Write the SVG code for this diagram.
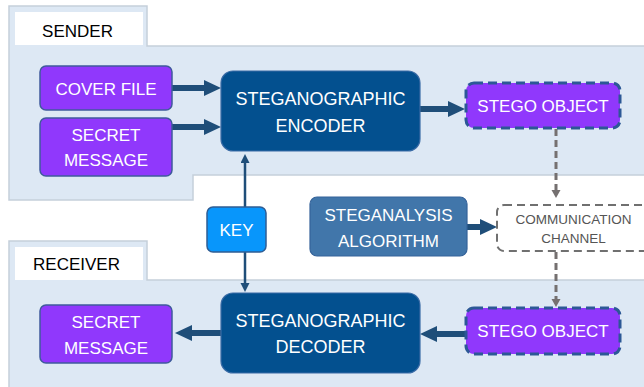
<svg xmlns="http://www.w3.org/2000/svg" width="644" height="387" viewBox="0 0 644 387">
<style>
.panel{fill:#dde8f4;stroke:#c5cfda;stroke-width:1.5}
.tab{fill:#ffffff}
.lbl{font-family:"Liberation Sans",Arial,sans-serif;font-size:17px;fill:#000;text-anchor:middle}
.t{font-family:"Liberation Sans",Arial,sans-serif;font-size:17px;fill:#ffffff;text-anchor:middle}
.purple{fill:#9038fc;stroke:#3f5a9c;stroke-width:1.5}
.enc{fill:#03508f;stroke:#3a6ba6;stroke-width:1.2}
.stego{fill:#9038fc;stroke:#2c5896;stroke-width:3;stroke-dasharray:9 5}
.key{fill:#0896fb;stroke:#2f5d94;stroke-width:1.5}
.ana{fill:#4176aa;stroke:#35639a;stroke-width:1.2}
.chan{fill:#ffffff;stroke:#707070;stroke-width:2;stroke-dasharray:8 5}
.ct{font-family:"Liberation Sans",Arial,sans-serif;font-size:13.5px;fill:#555555;text-anchor:middle}
.thick{stroke:#1f4e79;stroke-width:6;fill:none;marker-end:url(#big)}
.thin{stroke:#1f4e79;stroke-width:2.5;fill:none;marker-end:url(#small)}
.gray{stroke:#757070;stroke-width:3;fill:none;stroke-dasharray:7 4;marker-end:url(#grayh)}
</style>
<defs>
<marker id="big" markerUnits="userSpaceOnUse" markerWidth="18" markerHeight="16" refX="1" refY="8" orient="auto">
<path d="M0,0 L17,8 L0,16 z" fill="#1f4e79"/>
</marker>
<marker id="small" markerUnits="userSpaceOnUse" markerWidth="10" markerHeight="10" refX="1" refY="4.5" orient="auto">
<path d="M0,0 L9,4.5 L0,9 z" fill="#1f4e79"/>
</marker>
<marker id="grayh" markerUnits="userSpaceOnUse" markerWidth="10" markerHeight="10" refX="1" refY="4.5" orient="auto">
<path d="M0,0 L8,4.5 L0,9 z" fill="#757070"/>
</marker>
</defs>

<g id="sender-panel">
<path class="panel" d="M9,6 H147 V46 H646 V175 H193 V200 H9 Z"/>
<rect class="tab" x="15" y="12" width="128" height="33"/>
<text class="lbl" x="77.5" y="37">SENDER</text>
</g>

<g id="receiver-panel">
<path class="panel" d="M9,241 H147 V280 H646 V390 H9 Z"/>
<rect class="tab" x="15" y="247" width="128" height="33"/>
<text class="lbl" x="76.5" y="270">RECEIVER</text>
</g>

<g id="connectors">
<line class="thick" x1="172" y1="88" x2="205" y2="88"/>
<line class="thick" x1="172" y1="127" x2="205" y2="127"/>
<line class="thick" x1="420" y1="109" x2="449" y2="109"/>
<line class="thick" x1="221" y1="333" x2="191" y2="333"/>
<line class="thick" x1="466" y1="334" x2="436" y2="334"/>
<line class="thick" x1="467" y1="227" x2="481" y2="227"/>
<line class="thin" x1="245" y1="207" x2="245" y2="162"/>
<line class="thin" x1="245" y1="252" x2="245" y2="284"/>
<line class="gray" x1="556" y1="129" x2="556" y2="191"/>
<line class="gray" x1="556" y1="252" x2="556" y2="300"/>
</g>

<g id="cover-file">
<rect class="purple" x="40" y="66" width="132" height="44" rx="6"/>
<text class="t" x="106" y="95">COVER FILE</text>
</g>

<g id="secret-message-sender">
<rect class="purple" x="40" y="118" width="132" height="58" rx="6"/>
<text class="t" x="106" y="141">SECRET</text>
<text class="t" x="106" y="166">MESSAGE</text>
</g>

<g id="encoder">
<rect class="enc" x="221" y="71" width="199" height="80" rx="12"/>
<text class="t" x="320.5" y="105" style="font-size:18px">STEGANOGRAPHIC</text>
<text class="t" x="320.5" y="132" style="font-size:18px">ENCODER</text>
</g>

<g id="stego-object-sender">
<rect class="stego" x="466" y="83" width="154" height="45" rx="8"/>
<text class="t" x="543" y="112">STEGO OBJECT</text>
</g>

<g id="key">
<rect class="key" x="207" y="207" width="59" height="45" rx="6"/>
<text class="t" x="236.5" y="236">KEY</text>
</g>

<g id="steganalysis">
<rect class="ana" x="310" y="197" width="157" height="59" rx="7"/>
<text class="t" x="388.5" y="221">STEGANALYSIS</text>
<text class="t" x="388.5" y="247">ALGORITHM</text>
</g>

<g id="channel">
<rect class="chan" x="497" y="205" width="156" height="46" rx="7"/>
<text class="ct" x="573.5" y="224">COMMUNICATION</text>
<text class="ct" x="573.5" y="243">CHANNEL</text>
</g>

<g id="stego-object-receiver">
<rect class="stego" x="466" y="308" width="154" height="46" rx="8"/>
<text class="t" x="543" y="337">STEGO OBJECT</text>
</g>

<g id="decoder">
<rect class="enc" x="221" y="293" width="199" height="80" rx="12"/>
<text class="t" x="320.5" y="327" style="font-size:18px">STEGANOGRAPHIC</text>
<text class="t" x="320.5" y="353" style="font-size:18px">DECODER</text>
</g>

<g id="secret-message-receiver">
<rect class="purple" x="40" y="305" width="132" height="58" rx="6"/>
<text class="t" x="106" y="328">SECRET</text>
<text class="t" x="106" y="354">MESSAGE</text>
</g>
</svg>
